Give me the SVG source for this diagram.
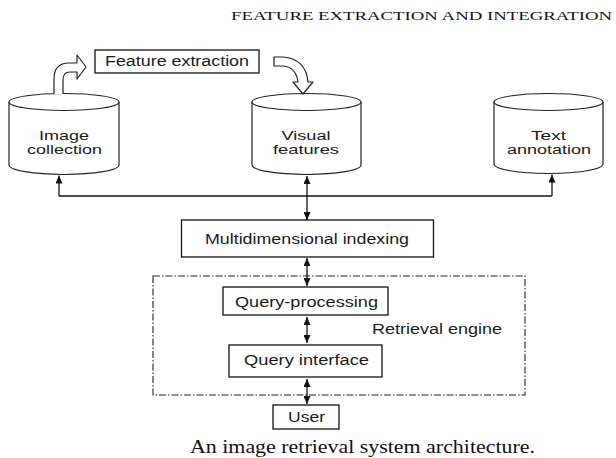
<svg xmlns="http://www.w3.org/2000/svg" width="616" height="458" viewBox="0 0 616 458">
<style>
  .ln{fill:none;stroke:#111;stroke-width:1.3}
  .bx{fill:#fff;stroke:#111;stroke-width:1.3}
  .cyl{fill:#fff;stroke:#222;stroke-width:1.2}
  .ha{fill:#fff;stroke:#222;stroke-width:1.2;stroke-linejoin:round}
  .t{font-family:"Liberation Sans",Arial,sans-serif;font-size:14px;fill:#1a1a1a;text-anchor:middle}
  .c{font-size:12.5px}
  .s{font-family:"Liberation Serif","Times New Roman",serif;fill:#111}
  .dash{fill:none;stroke:#222;stroke-width:1.1;stroke-dasharray:7 2 1.5 2}
</style>
<defs>
  <marker id="ah" viewBox="0 0 8 7" refX="8" refY="3.5" markerWidth="8" markerHeight="7" markerUnits="userSpaceOnUse" orient="auto-start-reverse">
    <path d="M0,0 L8,3.5 L0,7 Z" fill="#111"/>
  </marker>
</defs>

<text class="s" x="231" y="20" font-size="12" textLength="381" lengthAdjust="spacingAndGlyphs">FEATURE EXTRACTION AND INTEGRATION</text>

<g id="image-collection">
  <path class="cyl" d="M9,102 V165 A55,9.5 0 0 0 119,165 V102"/>
  <ellipse class="cyl" cx="64" cy="102" rx="55" ry="8.5"/>
  <text class="t c" x="64" y="140" textLength="50" lengthAdjust="spacingAndGlyphs">Image</text>
  <text class="t c" x="64.5" y="154" textLength="75" lengthAdjust="spacingAndGlyphs">collection</text>
</g>

<g id="visual-features">
  <path class="cyl" d="M252,102 V165 A54.5,9.5 0 0 0 361,165 V102"/>
  <ellipse class="cyl" cx="306.5" cy="102" rx="54.5" ry="8.5"/>
  <text class="t c" x="306" y="140" textLength="49" lengthAdjust="spacingAndGlyphs">Visual</text>
  <text class="t c" x="306" y="154" textLength="66" lengthAdjust="spacingAndGlyphs">features</text>
</g>

<g id="text-annotation">
  <path class="cyl" d="M494,102 V164 A54.5,9.5 0 0 0 603,164 V102"/>
  <ellipse class="cyl" cx="548.5" cy="102" rx="54.5" ry="8.5"/>
  <text class="t c" x="548.5" y="140" textLength="35" lengthAdjust="spacingAndGlyphs">Text</text>
  <text class="t c" x="549" y="154" textLength="84" lengthAdjust="spacingAndGlyphs">annotation</text>
</g>

<g id="feature-extraction">
  <rect class="bx" x="95" y="50" width="164" height="23"/>
  <text class="t" x="177" y="65.5" textLength="144" lengthAdjust="spacingAndGlyphs">Feature extraction</text>
</g>

<g id="multidimensional-indexing">
  <rect class="bx" x="181.5" y="220" width="252" height="37"/>
  <text class="t" x="307" y="243.5" textLength="204" lengthAdjust="spacingAndGlyphs">Multidimensional indexing</text>
</g>

<g id="retrieval-engine">
  <rect class="dash" x="153" y="276" width="372" height="119"/>
  <text class="t" x="437" y="334" textLength="130" lengthAdjust="spacingAndGlyphs">Retrieval engine</text>
</g>

<g id="query-processing">
  <rect class="bx" x="223" y="287" width="165" height="28"/>
  <text class="t" x="306.5" y="306.5" textLength="143" lengthAdjust="spacingAndGlyphs">Query-processing</text>
</g>

<g id="query-interface">
  <rect class="bx" x="229" y="345" width="153" height="32"/>
  <text class="t" x="306.5" y="364.5" textLength="125" lengthAdjust="spacingAndGlyphs">Query interface</text>
</g>

<g id="user">
  <rect class="bx" x="273" y="405" width="66" height="24"/>
  <text class="t" x="306.5" y="422" textLength="37" lengthAdjust="spacingAndGlyphs">User</text>
</g>

<g id="connectors">
  <path class="ha" d="M54,94 V79 Q54,63 69,63 H77 V55 L86,67 L77,79 V72 H70 Q63,72 63,80 V94"/>
  <path class="ha" d="M274,57 H283 Q306,59 308,82 H313 L303,94 L293,82 H298 Q296,67 283,66 H274 Z"/>
  <path class="ln" d="M59,196 H552"/>
  <path class="ln" d="M59,196 V175.5" marker-end="url(#ah)"/>
  <path class="ln" d="M552,196 V174.5" marker-end="url(#ah)"/>
  <path class="ln" d="M307,176 V220" marker-start="url(#ah)" marker-end="url(#ah)"/>
  <path class="ln" d="M307,258 V286" marker-start="url(#ah)" marker-end="url(#ah)"/>
  <path class="ln" d="M307,317 V343" marker-start="url(#ah)" marker-end="url(#ah)"/>
  <path class="ln" d="M307,379 V404" marker-start="url(#ah)" marker-end="url(#ah)"/>
</g>

<text class="s" x="190" y="452.5" font-size="18" textLength="345" lengthAdjust="spacingAndGlyphs">An image retrieval system architecture.</text>
</svg>
